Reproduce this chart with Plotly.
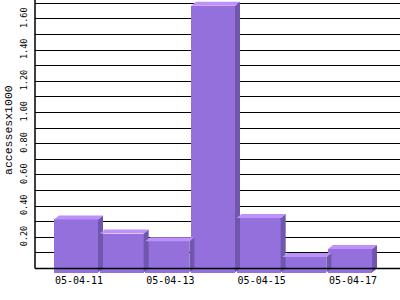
import plotly.graph_objects as go

# ---- data ----
dates = ["05-04-11", "05-04-12", "05-04-13", "05-04-14", "05-04-15", "05-04-16", "05-04-17"]
values = [0.34, 0.25, 0.20, 1.71, 0.35, 0.10, 0.15]
label_dates = ["05-04-11", "05-04-13", "05-04-15", "05-04-17"]
ytick_vals = [0.2, 0.4, 0.6, 0.8, 1.0, 1.2, 1.4, 1.6]
ytick_text = ["0.20", "0.40", "0.60", "0.80", "1.00", "1.20", "1.40", "1.60"]
y_title = "accessesx1000"

# ---- geometry / style ----
W, H = 400, 300
ML, MR, MT, MB = 35, 0, 0, 27
plot_w = W - ML - MR
plot_h = H - MT - MB
px_per_cat = 45.67
px_per_unit = 156.0
cat0_px = 79 - ML          # pixel offset of first category centre inside plot
zero_px = 268.5 - MT       # pixel of value 0 from plot top

x_lo = -cat0_px / px_per_cat
x_hi = (plot_w - cat0_px) / px_per_cat
y_hi = zero_px / px_per_unit
y_lo = -(plot_h - zero_px) / px_per_unit

depth_dx = 5 / px_per_cat
depth_dy = 4 / px_per_unit
bar_w = 44 / px_per_cat
front_shift = -3 / px_per_cat

FRONT = "#9370DB"
TOP = "#BE90FA"
SIDE = "#6F57AE"

idx = list(range(len(dates)))

fig = go.Figure()

# top and side faces (drawn first, fronts go over them)
for i, v in zip(idx, values):
    xl = i + front_shift - bar_w / 2
    xr = i + front_shift + bar_w / 2
    # side
    fig.add_trace(go.Scatter(
        x=[xr, xr + depth_dx, xr + depth_dx, xr, xr],
        y=[v - depth_dy, v, 0, -depth_dy, v - depth_dy],
        mode="lines", fill="toself", fillcolor=SIDE,
        line=dict(width=0, color=SIDE), hoverinfo="skip", showlegend=False))
    # top
    fig.add_trace(go.Scatter(
        x=[xl, xr, xr + depth_dx, xl + depth_dx, xl],
        y=[v - depth_dy, v - depth_dy, v, v, v - depth_dy],
        mode="lines", fill="toself", fillcolor=TOP,
        line=dict(width=0, color=TOP), hoverinfo="skip", showlegend=False))

# front faces
fig.add_trace(go.Bar(
    x=idx, y=values, base=[-depth_dy] * len(values),
    width=bar_w, offset=front_shift - bar_w / 2,
    marker=dict(color=FRONT, line=dict(width=0)),
    hovertext=dates, showlegend=False))

fig.update_layout(
    width=W, height=H,
    margin=dict(l=ML, r=MR, t=MT, b=MB, pad=0),
    paper_bgcolor="white", plot_bgcolor="white",
    showlegend=False,
    bargap=0,
    xaxis=dict(
        range=[x_lo, x_hi], showgrid=False, zeroline=False, showline=False,
        tickvals=[dates.index(d) for d in label_dates], ticktext=label_dates,
        ticks="", tickfont=dict(family="DejaVu Sans Mono", size=10, color="black"),
        fixedrange=True),
    yaxis=dict(
        range=[y_lo, y_hi], showgrid=True, gridcolor="black", gridwidth=1,
        zeroline=False, showline=False,
        tickvals=ytick_vals, ticktext=ytick_text, tickangle=-90, ticks="",
        ticklabelstandoff=5,
        tickfont=dict(family="DejaVu Sans Mono", size=8.5, color="black"),
        minor=dict(dtick=0.1, tick0=0, showgrid=True, gridcolor="black", gridwidth=1, ticks=""),
        fixedrange=True),
    annotations=[dict(
        text=y_title, textangle=-90, showarrow=False,
        xref="paper", yref="paper", x=(8 - ML) / plot_w, y=(plot_h - (130 - MT)) / plot_h,
        xanchor="center", yanchor="middle",
        font=dict(family="Liberation Mono", size=11.5, color="black"))],
    shapes=[
        dict(type="line", xref="paper", yref="y", x0=0, x1=1, y0=0, y1=0,
             line=dict(color="black", width=1.5), layer="above"),
        dict(type="line", xref="paper", yref="y", x0=0, x1=0, y0=0, y1=y_hi,
             line=dict(color="black", width=1.5), layer="above"),
    ],
)

fig.write_html("out.html")
